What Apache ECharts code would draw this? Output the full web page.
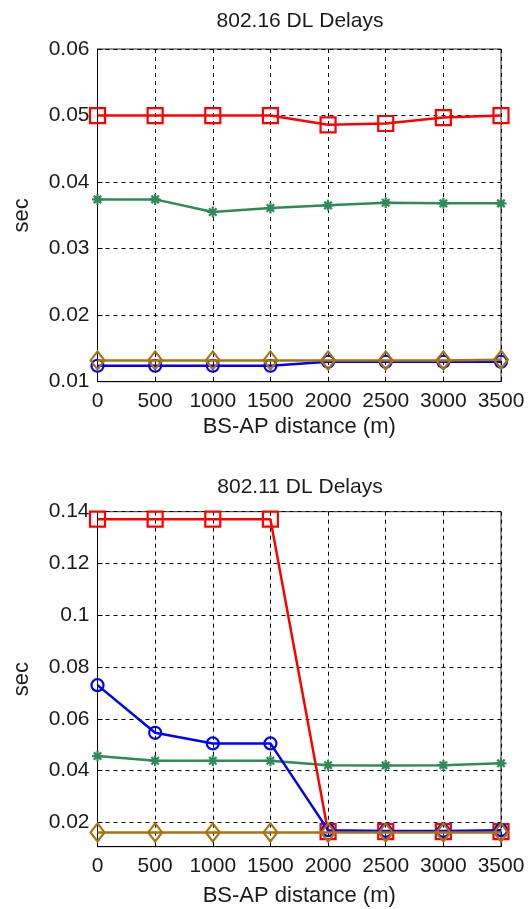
<!DOCTYPE html>
<html>
<head>
<meta charset="utf-8">
<script src="https://cdn.jsdelivr.net/npm/echarts@6/dist/echarts.min.js"></script>
<style>html,body{margin:0;padding:0;background:#fff}#c{width:528px;height:909px}</style>
</head>
<body>
<div id="c"></div>
<script>
// ---- data ----
const distances = [0, 500, 1000, 1500, 2000, 2500, 3000, 3500];
const xTicks = [0, 500, 1000, 1500, 2000, 2500, 3000, 3500];

// 802.16 DL Delays
const wimaxRed   = [0.0500, 0.0500, 0.0500, 0.0500, 0.0486, 0.0488, 0.0497, 0.0500];
const wimaxGreen = [0.0374, 0.0374, 0.0355, 0.0361, 0.0365, 0.0369, 0.0368, 0.0368];
const wimaxBlue  = [0.0124, 0.0124, 0.0124, 0.0124, 0.0130, 0.0130, 0.0130, 0.0130];
const wimaxBrown = [0.0132, 0.0132, 0.0132, 0.0132, 0.0132, 0.0132, 0.0132, 0.0133];
const wimaxYTicks = [0.01, 0.02, 0.03, 0.04, 0.05, 0.06];

// 802.11 DL Delays
const wifiRed   = [0.1371, 0.1371, 0.1371, 0.1371, 0.0164, 0.0164, 0.0164, 0.0164];
const wifiGreen = [0.0456, 0.0438, 0.0438, 0.0438, 0.0421, 0.0420, 0.0421, 0.0428];
const wifiBlue  = [0.0730, 0.0546, 0.0505, 0.0505, 0.0170, 0.0167, 0.0167, 0.0170];
const wifiBrown = [0.0161, 0.0161, 0.0161, 0.0161, 0.0161, 0.0161, 0.0161, 0.0161];
const wifiYTicks = [0.02, 0.04, 0.06, 0.08, 0.10, 0.12, 0.14];

const titles = ['802.16 DL Delays', '802.11 DL Delays'];
const xName = 'BS-AP distance (m)';
const yName = 'sec';

// ---- styles ----
const FONT = "'Liberation Sans', Arial, sans-serif";
const TXT = '#1a1a1a';
const C_RED = '#ff0000', C_GREEN = '#2e8b57', C_BLUE = '#0000ff', C_BROWN = '#a8740c';
const STAR = 'path://M5,0L5,10M0,5L10,5M1.6,1.6L8.4,8.4M1.6,8.4L8.4,1.6';

function pairs(ys){ return distances.map((x,i)=>[x, ys[i]]); }
function fmt(v){ return String(parseFloat(Number(v).toFixed(4))); }

function mkSeries(ys, color, symbol, size, idx, z){
  const isStar = symbol === STAR;
  return {
    type: 'line', xAxisIndex: idx, yAxisIndex: idx, data: pairs(ys),
    symbol: symbol, symbolSize: size, showAllSymbol: true, z: z,
    lineStyle: {color: color, width: 2.5},
    itemStyle: {color: isStar ? color : 'rgba(0,0,0,0)', borderColor: color, borderWidth: 2.2},
    emphasis: {disabled: true}, animation: false, clip: false
  };
}

const grids = [
  {left: 97.5, right: 27, top: 49, bottom: 527.3},
  {left: 97.5, right: 27, top: 511.7, bottom: 62.3}
];

function xAxisCfg(idx){
  return {
    type: 'value', gridIndex: idx, min: 0, max: 3500, interval: 500,
    name: xName, nameLocation: 'middle', nameGap: idx === 0 ? 34 : 38,
    nameTextStyle: {fontFamily: FONT, fontSize: 22, color: TXT},
    axisLine: {show: true, onZero: false, lineStyle: {color: '#000', width: 1}},
    axisTick: {show: true, inside: true, length: 5, customValues: xTicks, lineStyle: {color: '#000'}},
    axisLabel: {fontFamily: FONT, fontSize: 21, color: TXT, margin: 9, customValues: xTicks,
                formatter: v => String(v)},
    splitLine: {show: true, lineStyle: {color: '#000', type: [4, 4], width: 1}}
  };
}

function yAxisCfg(idx, min, max, ticks){
  return {
    type: 'value', gridIndex: idx, min: min, max: max,
    name: yName, nameLocation: 'middle', nameGap: 65,
    nameTextStyle: {fontFamily: FONT, fontSize: 22, color: TXT},
    axisLine: {show: true, lineStyle: {color: '#000', width: 1}},
    axisTick: {show: true, inside: true, length: 5, customValues: ticks, lineStyle: {color: '#000'}},
    axisLabel: {fontFamily: FONT, fontSize: 21, color: TXT, margin: 8, customValues: ticks, formatter: fmt},
    splitLine: {show: true, lineStyle: {color: '#000', type: [4, 4], width: 1}}
  };
}

const chart = echarts.init(document.getElementById('c'), null, {renderer: 'canvas'});
chart.setOption({
  backgroundColor: '#fff',
  animation: false,
  title: [
    {text: titles[0], left: 295, top: 6, textAlign: 'center',
     textStyle: {fontFamily: FONT, fontSize: 21, fontWeight: 'normal', color: TXT}},
    {text: titles[1], left: 295, top: 472, textAlign: 'center',
     textStyle: {fontFamily: FONT, fontSize: 21, fontWeight: 'normal', color: TXT}}
  ],
  grid: grids.map(g => Object.assign({show: true, borderColor: '#333', borderWidth: 1, backgroundColor: 'transparent'}, g)),
  xAxis: [xAxisCfg(0), xAxisCfg(1)],
  yAxis: [yAxisCfg(0, 0.01, 0.06, wimaxYTicks), yAxisCfg(1, 0.0106, 0.14, wifiYTicks)],
  series: [
    mkSeries(wimaxGreen, C_GREEN, STAR, 11, 0, 2),
    mkSeries(wimaxRed, C_RED, 'rect', 15, 0, 3),
    mkSeries(wimaxBlue, C_BLUE, 'circle', 12, 0, 4),
    mkSeries(wimaxBrown, C_BROWN, 'diamond', [14, 18], 0, 5),
    mkSeries(wifiGreen, C_GREEN, STAR, 11, 1, 2),
    mkSeries(wifiRed, C_RED, 'rect', 15, 1, 3),
    mkSeries(wifiBlue, C_BLUE, 'circle', 12, 1, 4),
    mkSeries(wifiBrown, C_BROWN, 'diamond', [14, 18], 1, 5)
  ]
});
</script>
</body>
</html>
